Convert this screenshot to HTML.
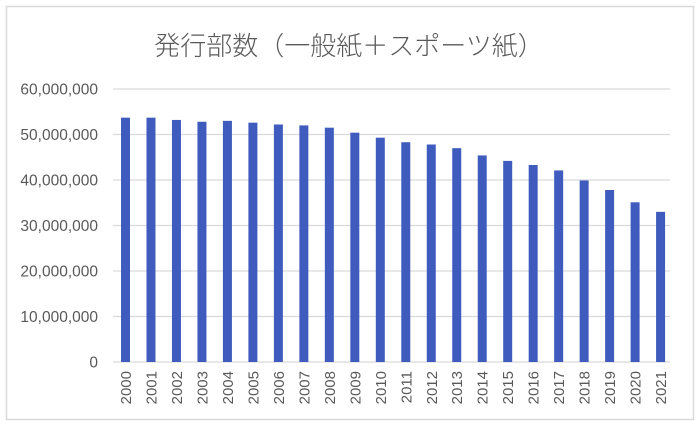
<!DOCTYPE html><html><head><meta charset="utf-8"><style>body{margin:0;background:#fff}</style></head><body>
<svg width="700" height="427" xmlns="http://www.w3.org/2000/svg" font-family="Liberation Sans, Noto Sans CJK JP, sans-serif">
<rect x="6.5" y="6.5" width="687" height="413" fill="#fff" stroke="#d9d9d9" stroke-width="1.5"/>
<text x="349" y="55" font-size="26" fill="#595959" text-anchor="middle" font-family="Noto Sans CJK JP, sans-serif" font-weight="300">発行部数（一般紙＋スポーツ紙）</text>
<g stroke="#d9d9d9" stroke-width="1.2">
<line x1="113" x2="670" y1="89" y2="89"/><line x1="113" x2="670" y1="134.5" y2="134.5"/><line x1="113" x2="670" y1="180" y2="180"/><line x1="113" x2="670" y1="225.5" y2="225.5"/><line x1="113" x2="670" y1="271" y2="271"/><line x1="113" x2="670" y1="316.5" y2="316.5"/><line x1="113" x2="670" y1="362" y2="362"/>
</g>
<g font-size="15.5" fill="#595959" text-anchor="end">
<text x="98" y="94.5">60,000,000</text><text x="98" y="140">50,000,000</text><text x="98" y="185.5">40,000,000</text><text x="98" y="231">30,000,000</text><text x="98" y="276.5">20,000,000</text><text x="98" y="322">10,000,000</text><text x="98" y="367.5">0</text>
</g>
<g id="bars" fill="#3f5bbd"></g>
<g id="labs" font-size="15" fill="#595959"></g>
<script>
var v=[53.7,53.7,53.2,52.8,53.0,52.6,52.2,52.0,51.5,50.4,49.3,48.3,47.8,47.0,45.4,44.2,43.3,42.1,39.9,37.8,35.1,33.0];
var b=document.getElementById('bars'),l=document.getElementById('labs'),ns='http://www.w3.org/2000/svg';
v.forEach(function(d,i){var cx=125.5+i*25.48,h=d*4.55;
var r=document.createElementNS(ns,'rect');r.setAttribute('x',cx-4.5);r.setAttribute('width',9);r.setAttribute('y',362-h);r.setAttribute('height',h);b.appendChild(r);
var t=document.createElementNS(ns,'text');t.setAttribute('transform','translate('+(cx+5.5)+',371) rotate(-90)');t.setAttribute('text-anchor','end');t.textContent=2000+i;l.appendChild(t);});
</script>
</svg></body></html>
